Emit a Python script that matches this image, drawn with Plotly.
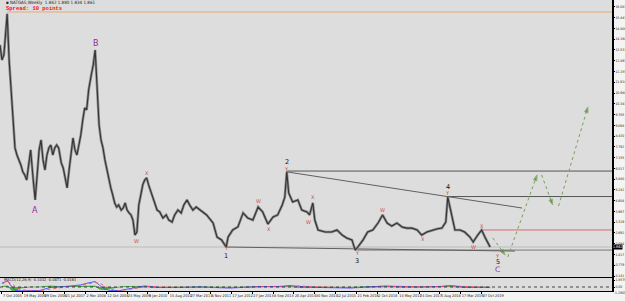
import plotly.graph_objects as go

# ---------------- data ----------------
bar_idx = [-3,0,3,8,11,14,17,20,23,26,29,32,35,38,41,44,48,51,54,57,60,63,66,69,72,75,78,81,84,87,
           91,94,97,100,103,106,109,112,115,118,121,124,127,130,133,137,140,143,146,149,152,155,158,161,164,167,170,173,176,179,
           183,186,189,192,195,198,201,204,207,210,213,216,219,222,225,229,232,235,238,242,247,252,256,261,265,270,275,279,284,288,
           293,298,304,314,324,330,337,344,347,354,362,370,377,385,393,400,408,416,423,430,434,437,440,446,454,460,468,472,477,480,
           485,496,506,514,522,529,537,542,546,554,561,569,577,584,591,598,606,614,621,629,637,644,652,660,667,675,681,684,689,695,
           703,710,718,723,730,736,741,749]
close = [13.83,12.94,13.24,15.67,12.94,11.16,9.39,7.73,7.31,7.02,6.72,6.31,6.13,5.83,6.72,7.61,5.83,4.65,6.13,7.61,
         8.20,7.02,6.42,7.31,7.73,7.90,7.31,7.73,7.90,7.73,6.84,6.54,5.95,5.36,6.42,7.31,8.32,7.61,7.31,7.90,
         8.50,9.39,10.10,9.98,11.16,12.05,12.64,13.53,11.16,9.09,8.20,7.73,7.02,6.42,5.83,5.36,4.94,4.47,4.23,4.35,
         4.05,4.17,4.47,4.05,3.88,3.76,3.46,2.57,2.75,4.35,4.94,5.54,5.83,5.95,5.54,5.06,4.65,4.35,4.05,3.94,
         3.58,3.76,3.46,3.34,3.76,4.05,3.88,4.35,4.65,4.35,4.05,4.23,4.05,3.76,3.28,2.45,2.28,1.86,2.45,2.87,
         3.05,3.88,3.58,3.46,4.23,3.94,3.22,3.64,3.76,4.35,4.82,6.31,5.06,4.53,4.65,4.05,3.94,3.76,4.47,3.46,
         2.87,2.75,2.75,2.87,2.57,2.39,2.28,1.68,1.86,2.28,2.75,2.87,3.28,3.76,3.28,3.10,3.28,3.05,2.98,2.98,
         2.87,2.57,2.75,2.87,2.93,2.98,3.34,4.82,3.88,2.87,2.87,2.75,2.45,2.16,2.57,2.87,2.45,1.86]

macd_idx = [0,9,15,21,28,43,58,66,74,89,104,120,132,143,150,158,166,173,181,189,196,212,219,227,242,273,304,350,373,396,
            427,442,457,488,534,565,588,611,641,672,687,710,733,749]
macd_main = [1.06,1.59,0,-0.93,-1.0,-1.0,-0.93,-0.53,-0.13,0,0.27,0.53,1.06,1.46,0.40,-0.53,-0.93,-1.0,-0.93,-0.66,
             -0.40,0,0.27,0.13,-0.13,-0.13,0,-0.27,0,0.13,0.13,0.40,0.13,-0.13,-0.27,0,0.27,0.13,0,0.13,0.40,0,-0.13,-0.13]
macd_signal = [0.9,1.3,0.9,0.0,-0.7,-1.0,-0.95,-0.75,-0.4,-0.1,0.15,0.4,0.8,1.2,1.0,0.2,-0.5,-0.85,-0.95,-0.8,
               -0.6,-0.15,0.1,0.2,0.0,-0.1,-0.05,-0.2,-0.1,0.05,0.1,0.3,0.25,0.0,-0.2,-0.1,0.15,0.2,0.05,0.08,0.3,0.15,-0.05,-0.1]

date_tick_idx = [0,32,64,96,128,160,192,224,256,288,320,352,384,416,448,480,512,544,576,608,640,672,704,736]
date_tick_text = ["7 Oct 2005","19 May 2006","29 Dec 2006","21 Jul 2007","2 Mar 2008","12 Oct 2008","24 May 2009",
                  "3 Jan 2010","15 Aug 2010","27 Mar 2011","6 Nov 2011","17 Jun 2012","27 Jan 2013","8 Sep 2013",
                  "20 Apr 2014","30 Nov 2014","12 Jul 2015","21 Feb 2016","2 Oct 2016","14 May 2017","24 Dec 2017",
                  "5 Aug 2018","17 Mar 2019","27 Oct 2019"]
price_ticks = [16.081,15.443,14.806,14.168,13.531,12.893,12.255,11.618,10.980,10.343,9.705,9.068,8.430,
               7.792,7.155,6.517,5.880,5.242,4.604,3.967,3.329,2.692,2.054,1.417,0.779,0.141]

PURPLE, RED, BLACK = "#9a1f9a", "#cc4c4c", "#111111"
wave_labels = [("A",51,4.00,PURPLE,8),("B",144,13.89,PURPLE,8),("X",222,6.25,RED,5),("W",206,2.22,RED,5),
               ("Y",344,1.80,RED,5),("1",344,1.30,BLACK,6.5),("W",394,4.59,RED,5),("X",410,2.93,RED,5),
               ("Y",437,6.50,RED,5),("2",437,6.90,BLACK,6.5),("W",471,3.34,RED,5),("X",477,4.82,RED,5),
               ("Y",545,1.48,RED,5),("3",545,1.06,BLACK,6.5),("W",584,4.05,RED,5),("X",646,2.34,RED,5),
               ("Y",684,5.08,RED,5),("4",684,5.44,BLACK,6.5),("W",723,1.86,RED,5),("X",736,3.11,RED,5),
               ("Y",761,1.30,RED,5),("5",761,0.95,BLACK,6.5),("C",761,0.55,PURPLE,7.5)]

# level / trend lines: (x0, y0, x1, y1, colour)
level_lines = [(8,15.78,936,15.78,"#e8a878"),(437,6.36,936,6.36,"#555555"),(684,4.85,936,4.85,"#555555"),
               (736,2.87,936,2.87,"#d46a6a"),(545,1.68,936,1.68,"#777777"),(-3,1.86,936,1.86,"#bbbbbb"),
               (437,6.31,798,4.17,"#606060"),(344,1.86,787,1.62,"#606060")]
proj_x = [[753,772],[776,821],[828,845],[854,899]]
proj_y = [[2.40,1.39],[1.27,6.13],[6.13,4.35],[4.29,10.16]]

COND = "DejaVu Sans Condensed, Liberation Sans Narrow, DejaVu Sans, sans-serif"

# ---------------- figure ----------------
fig = go.Figure()
for x0, y0, x1, y1, col in level_lines:
    fig.add_trace(go.Scatter(x=[x0, x1], y=[y0, y1], mode="lines", line=dict(color=col, width=1),
                             xaxis="x", yaxis="y", hoverinfo="skip", showlegend=False))

fig.add_trace(go.Scatter(x=bar_idx, y=close, mode="lines", line=dict(color="#8c8c8c", width=2.6),
                         xaxis="x", yaxis="y", hoverinfo="skip", showlegend=False))
fig.add_trace(go.Scatter(x=bar_idx, y=close, mode="lines", line=dict(color="#333333", width=1.1),
                         xaxis="x", yaxis="y", hoverinfo="skip", showlegend=False))

for px, py in zip(proj_x, proj_y):
    fig.add_trace(go.Scatter(x=px, y=py, mode="lines+markers", line=dict(color="#78a05a", width=1, dash="dot"),
                             marker=dict(symbol="arrow", angleref="previous", size=[0, 6], color="#3f7a1f"),
                             xaxis="x", yaxis="y", hoverinfo="skip", showlegend=False))

hist = [m - s for m, s in zip(macd_main, macd_signal)]
fig.add_trace(go.Scatter(x=macd_idx, y=hist, mode="lines", fill="tozeroy", line=dict(color="#2a9a2a", width=0.6),
                         fillcolor="rgba(40,160,40,0.8)", xaxis="x2", yaxis="y2", hoverinfo="skip", showlegend=False))
fig.add_trace(go.Scatter(x=macd_idx, y=macd_main, mode="lines", line=dict(color="#4a4aff", width=0.9),
                         xaxis="x2", yaxis="y2", hoverinfo="skip", showlegend=False))
fig.add_trace(go.Scatter(x=macd_idx, y=macd_signal, mode="lines", line=dict(color="#ff5050", width=0.9, dash="dot"),
                         xaxis="x2", yaxis="y2", hoverinfo="skip", showlegend=False))
fig.add_trace(go.Scatter(x=[-3, 936], y=[0, 0], mode="lines", line=dict(color="#222222", width=0.8, dash="dot"),
                         xaxis="x2", yaxis="y2", hoverinfo="skip", showlegend=False))

ann = []
for t, xi, yv, col, sz in wave_labels:
    ann.append(dict(x=xi, y=yv, xref="x", yref="y", text=t, showarrow=False,
                    font=dict(color=col, size=sz, family="DejaVu Sans")))
ann += [
    dict(x=0.006, y=0.99, xref="paper", yref="paper", xanchor="left", yanchor="middle", showarrow=False,
         text="▪ NATGAS,Weekly  1.842 1.880 1.834 1.861", font=dict(size=4.5, color="#222", family=COND)),
    dict(x=0.006, y=0.972, xref="paper", yref="paper", xanchor="left", yanchor="middle", showarrow=False,
         text="<b>Spread: 10 points</b>", font=dict(size=5.5, color="#ee1111", family="Liberation Mono")),
    dict(x=0.003, y=0.040, xref="paper", yref="paper", xanchor="left", yanchor="middle", showarrow=False,
         text="MACD(12,26,9) -0.1032 -0.0871 -0.0161", font=dict(size=4, color="#222", family=COND)),
    dict(x=1.0, y=1.862, xref="paper", yref="y", xanchor="left", yanchor="middle", showarrow=False,
         text="1.862", bgcolor="#000000", borderpad=0, font=dict(size=3.6, color="white", family=COND)),
    dict(x=1.0, y=-0.006, xref="paper", yref="paper", xanchor="left", yanchor="middle", showarrow=False,
         text="-1.2903", font=dict(size=3.4, color="#222", family=COND)),
]

fig.update_layout(
    width=625, height=301, margin=dict(l=0, r=13, t=0, b=10, autoexpand=False),
    paper_bgcolor="#f4f4f4", plot_bgcolor="#dddddd", showlegend=False, annotations=ann,
    xaxis=dict(domain=[0, 1], anchor="y", range=[-3, 936], showticklabels=False, showgrid=False, zeroline=False,
               showline=True, linecolor="#000", linewidth=1, ticks=""),
    xaxis2=dict(domain=[0, 1], anchor="y2", matches="x", range=[-3, 936], showgrid=False, zeroline=False,
                tickmode="array", tickvals=date_tick_idx, ticktext=date_tick_text, ticklabelposition="outside right",
                tickangle=0, automargin=False,
                ticks="outside", ticklen=2, tickcolor="#000", showline=True, linecolor="#000", linewidth=1,
                tickfont=dict(size=3.8, color="#222", family=COND)),
    yaxis=dict(domain=[0.0481, 1], anchor="x", side="right", range=[0.085, 16.49], showgrid=False, zeroline=False,
               tickmode="array", tickvals=price_ticks, ticktext=[f"{v:.3f}" for v in price_ticks], automargin=False,
               ticks="outside", ticklen=1, tickcolor="#000", showline=True, linecolor="#000", linewidth=1.5,
               ticklabelstandoff=0,
               tickfont=dict(size=3.4, color="#222", family=COND)),
    yaxis2=dict(domain=[0, 0.0447], anchor="x2", side="right", range=[-1.06, 2.39], showgrid=False, zeroline=False,
                tickmode="array", tickvals=[1.8579, 0], ticktext=["1.8579", "0.00"], automargin=False,
                ticks="outside", ticklen=1, tickcolor="#000", showline=True, linecolor="#000", linewidth=1.5,
                ticklabelstandoff=0,
                tickfont=dict(size=3.4, color="#222", family=COND)),
)

fig.write_html("out.html")
